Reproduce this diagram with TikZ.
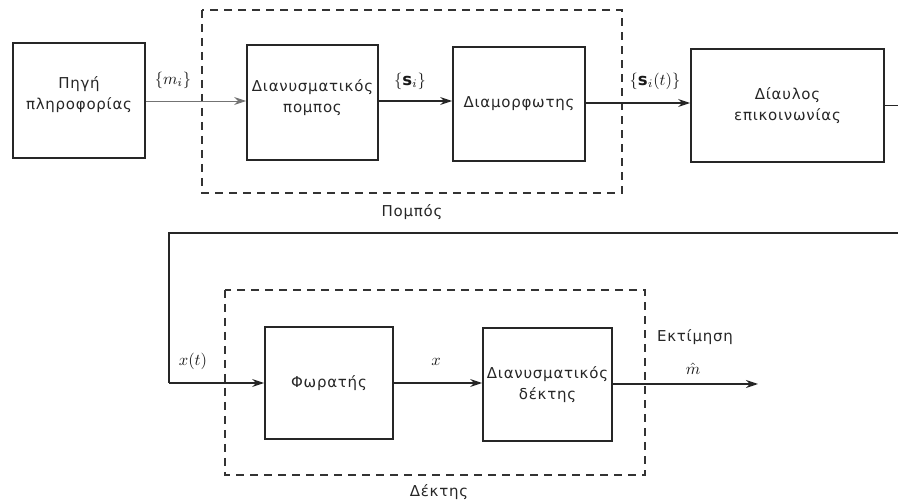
\documentclass[tikz,border=0pt]{standalone}
\usepackage{fontspec}
\setmainfont{DejaVu Sans}
\newfontfamily\blockfont[LetterSpace=5]{DejaVu Sans}
\usetikzlibrary{arrows.meta}
\newcommand\sigmath[1]{\scalebox{1.65}{$#1$}}
\tikzset{
  blockbox/.style={draw=black!85, line width=1.7pt, inner sep=0pt, align=center,
    font=\blockfont\fontsize{15}{21}\selectfont, text=black!85},
  groupbox/.style={draw=black!80, line width=1.7pt, dash pattern=on 8pt off 6pt},
  flow/.style={draw=black!85, line width=1.4pt, -{Stealth[length=12pt,width=8pt]}},
  wire/.style={draw=black!85, line width=1.4pt},
  sig/.style={text=black!90, inner sep=0pt},
  caption/.style={font=\blockfont\fontsize{15}{17}\selectfont, text=black!85, inner sep=0pt}
}
\begin{document}
\begin{tikzpicture}[x=1pt, y=-1pt]
  \useasboundingbox (0,0) rectangle (898,502);
  \clip (0,0) rectangle (898,502);

  % transmitter group
  \draw[groupbox] (202,10) rectangle (622,193);
  \node[caption] (txlab) at (412,212) {Πομπός};
  % receiver group
  \draw[groupbox] (225,290) rectangle (645,475);
  \node[caption] (rxlab) at (439,492) {Δέκτης};

  % blocks, top row
  \node[blockbox, minimum width=132pt, minimum height=115pt] (src) at (79,100.5) {};
  \node[blockbox, minimum width=131pt, minimum height=115pt] (vtx) at (312.5,102.5) {};
  \node[blockbox, minimum width=132pt, minimum height=114pt] (mod) at (519,104) {Διαμορφωτης};
  \node[blockbox, minimum width=193pt, minimum height=113pt] (chan) at (787.5,105.5) {Δίαυλος\\επικοινωνίας};
  \node[blockbox, draw=none] (srctext) at (79,95) {Πηγή\\πληροφορίας};
  \node[blockbox, draw=none] (vtxtext) at (312.5,98) {Διανυσματικός\\πομπος};

  % blocks, bottom row
  \node[blockbox, minimum width=128pt, minimum height=112pt] (det) at (329,383) {Φωρατής};
  \node[blockbox, minimum width=129pt, minimum height=113pt] (vrx) at (547.5,384.5) {Διανυσματικός\\δέκτης};

  % routing points of the channel output
  \coordinate (c1) at (912,105.5);
  \coordinate (c2) at (912,233);
  \coordinate (c3) at (169,233);
  \coordinate (c4) at (169,383);
  \coordinate (out) at (758,384);

  % connectors
  \draw[flow, draw=black!55, line width=0.9pt] (src.east |- 0,101) -- (vtx.west |- 0,101);
  \draw[flow] (vtx.east |- 0,101) -- (mod.west |- 0,101);
  \draw[flow] (mod.east |- 0,103) -- (chan.west |- 0,103);
  \draw[wire] (chan.east |- c1) -- (c1) -- (c2) -- (c3) -- (c4);
  \draw[flow] (c4) -- (det.west);
  \draw[flow] (det.east) -- (vrx.west |- det.east);
  \draw[flow] (vrx.east |- out) -- (out);

  % signal labels
  \node[sig] (lm) at (173,80) {\sigmath{\{m_i\}}};
  \node[sig] (ls) at (410,81) {\sigmath{\{\mathbf{s}_i\}}};
  \node[sig] (lst) at (655,81) {\sigmath{\{\mathbf{s}_i(t)\}}};
  \node[sig] (lxt) at (193,361) {\sigmath{x(t)}};
  \node[sig] (lx) at (436,362) {\sigmath{x}};
  \node[caption] (lest) at (695,337) {Εκτίμηση};
  \node[sig] (lmh) at (693,369) {\sigmath{\hat{m}}};
\end{tikzpicture}
\end{document}
